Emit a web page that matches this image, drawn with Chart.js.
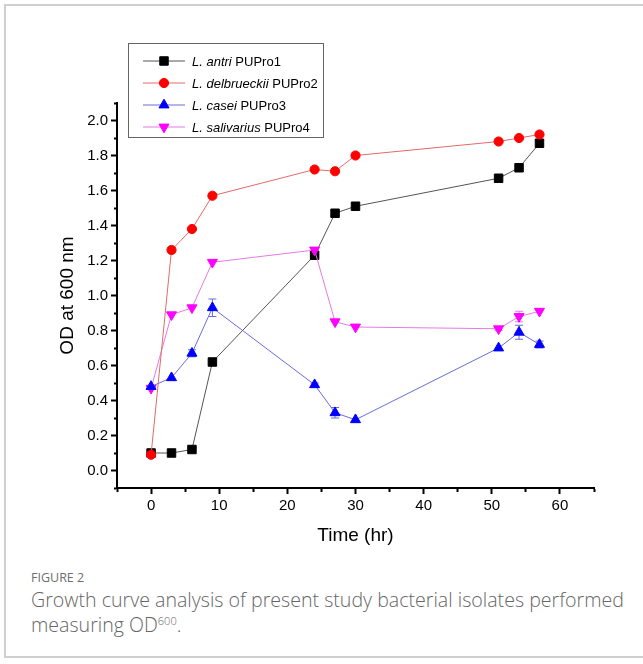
<!DOCTYPE html>
<html>
<head>
<meta charset="utf-8">
<script src="https://cdn.jsdelivr.net/npm/chart.js@4"></script>
<style>
  html, body { margin: 0; padding: 0; background: #fff; }
  body { width: 643px; height: 664px; position: relative; overflow: hidden; }
  #frame { position: absolute; left: 4px; top: 4px; width: 680px; height: 654px; border: 2px solid #cfcfcf; box-sizing: border-box; }
  #wrap { position: absolute; left: 0; top: 0; width: 643px; height: 560px; }
  #figLabel { position: absolute; left: 31px; top: 569px; font-family: "Open Sans", sans-serif; font-size: 12.5px; color: #6e6e6e; }
  #caption { position: absolute; left: 31px; top: 587px; width: 610px; font-family: "Open Sans", sans-serif; font-weight: 300; font-size: 19.6px; line-height: 25px; color: #666; }
  #caption sup { font-size: 11px; vertical-align: 7px; line-height: 0; }
</style>
</head>
<body>
<div id="frame"></div>
<div id="wrap"><canvas id="growthChart" width="643" height="560"></canvas></div>
<div id="figLabel">FIGURE 2</div>
<div id="caption">Growth curve analysis of present study bacterial isolates performed measuring OD<sup>600</sup>.</div>

<script>
// Sampling times (hours)
const hours = [0, 3, 6, 9, 24, 27, 30, 51, 54, 57];

// Strain names (species is drawn in italics in the legend)
const species = ["L. antri", "L. delbrueckii", "L. casei", "L. salivarius"];
const strains = ["PUPro1", "PUPro2", "PUPro3", "PUPro4"];

// OD at 600 nm for each isolate
const antriOD = [0.10, 0.10, 0.12, 0.62, 1.23, 1.47, 1.51, 1.67, 1.73, 1.87];
const delbrueckiiOD = [0.09, 1.26, 1.38, 1.57, 1.72, 1.71, 1.80, 1.88, 1.90, 1.92];
const caseiOD = [0.48, 0.53, 0.67, 0.93, 0.49, 0.33, 0.29, 0.70, 0.79, 0.72];
const salivariusOD = [0.47, 0.89, 0.93, 1.19, 1.26, 0.85, 0.82, 0.81, 0.88, 0.91];

// Error bar half-lengths
const antriErr = [0, 0, 0, 0, 0.01, 0, 0, 0, 0, 0];
const delbrueckiiErr = [0, 0, 0, 0, 0, 0, 0, 0, 0, 0];
const caseiErr = [0, 0, 0.02, 0.05, 0.01, 0.03, 0, 0, 0.04, 0.02];
const salivariusErr = [0, 0, 0, 0, 0.01, 0, 0, 0.01, 0.03, 0];

// Axis tick settings
const xTickValues = [0, 10, 20, 30, 40, 50, 60];
const yTickValues = [0.0, 0.2, 0.4, 0.6, 0.8, 1.0, 1.2, 1.4, 1.6, 1.8, 2.0];

const FONT = "'Liberation Sans', Arial, sans-serif";

function toPoints(values) {
    return hours.map((h, i) => ({ x: h, y: values[i] }));
}

// Draws the error bars behind the markers
const errorBarPlugin = {
    id: "errorBars",
    beforeDatasetsDraw(chart) {
        const ctx = chart.ctx;
        const xScale = chart.scales.x;
        const yScale = chart.scales.y;
        chart.data.datasets.forEach((ds) => {
            if (!ds.errors) return;
            ctx.save();
            ctx.strokeStyle = ds.errorColor;
            ctx.lineWidth = 1;
            ds.data.forEach((p, i) => {
                const e = ds.errors[i];
                if (!e) return;
                const px = xScale.getPixelForValue(p.x);
                const top = yScale.getPixelForValue(p.y + e);
                const bottom = yScale.getPixelForValue(p.y - e);
                ctx.beginPath();
                ctx.moveTo(px, top);
                ctx.lineTo(px, bottom);
                ctx.moveTo(px - 4, top);
                ctx.lineTo(px + 4, top);
                ctx.moveTo(px - 4, bottom);
                ctx.lineTo(px + 4, bottom);
                ctx.stroke();
            });
            ctx.restore();
        });
    }
};

// Boxed legend with italic species names
const boxLegendPlugin = {
    id: "boxLegend",
    afterDraw(chart) {
        const ctx = chart.ctx;
        ctx.save();
        ctx.fillStyle = "#fff";
        ctx.fillRect(128.5, 43.5, 195, 94);
        ctx.strokeStyle = "#666";
        ctx.lineWidth = 1;
        ctx.strokeRect(128.5, 43.5, 195, 94);

        chart.data.datasets.forEach((ds, i) => {
            const y = 61 + i * 22;
            ctx.strokeStyle = ds.borderColor;
            ctx.lineWidth = 1;
            ctx.beginPath();
            ctx.moveTo(143, y);
            ctx.lineTo(185, y);
            ctx.stroke();

            ctx.fillStyle = ds.pointBackgroundColor;
            ctx.strokeStyle = ds.pointBorderColor;
            Chart.helpers.drawPoint(ctx, {
                pointStyle: ds.pointStyle,
                radius: ds.pointRadius,
                rotation: ds.pointRotation || 0,
                borderWidth: 1
            }, 164, y);

            ctx.fillStyle = "#000";
            ctx.textBaseline = "middle";
            ctx.font = "italic 13px " + FONT;
            ctx.fillText(species[i], 192, y + 1);
            const w = ctx.measureText(species[i] + " ").width;
            ctx.font = "13px " + FONT;
            ctx.fillText(strains[i], 192 + w, y + 1);
        });
        ctx.restore();
    }
};

function makeDataset(i, values, errors, pointColor, lineColor, style, radius, rotation, order) {
    return {
        label: species[i] + " " + strains[i],
        data: toPoints(values),
        errors: errors,
        errorColor: lineColor,
        borderColor: lineColor,
        borderWidth: 1,
        pointStyle: style,
        pointRadius: radius,
        pointRotation: rotation,
        pointBackgroundColor: pointColor,
        pointBorderColor: pointColor,
        pointBorderWidth: 1,
        tension: 0,
        fill: false,
        order: order
    };
}

const ctx = document.getElementById("growthChart").getContext("2d");

window.growthChart = new Chart(ctx, {
    type: "line",
    data: {
        datasets: [
            makeDataset(0, antriOD, antriErr, "#000000", "#555555", "rect", 6, 0, 4),
            makeDataset(1, delbrueckiiOD, delbrueckiiErr, "#ff0000", "#e06a6a", "circle", 4.6, 0, 1),
            makeDataset(2, caseiOD, caseiErr, "#0000ff", "#6a6ad8", "triangle", 5.8, 0, 2),
            makeDataset(3, salivariusOD, salivariusErr, "#ff00ff", "#e47ae4", "triangle", 5.8, 180, 3)
        ]
    },
    options: {
        responsive: false,
        animation: false,
        devicePixelRatio: 1,
        layout: {
            padding: { left: 56, top: 103, right: 49, bottom: 13 }
        },
        plugins: {
            legend: { display: false },
            tooltip: { enabled: false }
        },
        scales: {
            x: {
                type: "linear",
                min: -5,
                max: 65,
                afterFit(scale) { scale.height = 59; },
                ticks: {
                    stepSize: 5,
                    padding: 3,
                    color: "#000",
                    font: { family: FONT, size: 15 },
                    maxRotation: 0,
                    autoSkip: false,
                    callback: (v) => xTickValues.includes(v) ? String(v) : ""
                },
                grid: {
                    drawOnChartArea: false,
                    drawTicks: true,
                    tickLength: 6,
                    tickWidth: 2,
                    tickColor: "#000",
                    tickBorderDash: (c) => (c.tick && Math.round(c.tick.value) % 10 !== 0 ? [3, 100] : [])
                },
                border: { display: true, color: "#000", width: 2 },
                title: {
                    display: true,
                    text: "Time (hr)",
                    color: "#000",
                    font: { family: FONT, size: 19 },
                    padding: 0
                }
            },
            y: {
                type: "linear",
                min: -0.1,
                max: 2.1,
                afterFit(scale) { scale.width = 61; },
                ticks: {
                    stepSize: 0.1,
                    padding: 3,
                    color: "#000",
                    font: { family: FONT, size: 15 },
                    autoSkip: false,
                    callback: (v) => {
                        const r = Math.round(v * 10);
                        return (r % 2 === 0 && r >= 0 && r <= 20) ? (r / 10).toFixed(1) : "";
                    }
                },
                grid: {
                    drawOnChartArea: false,
                    drawTicks: true,
                    tickLength: 6,
                    tickWidth: 2,
                    tickColor: "#000",
                    tickBorderDash: (c) => (c.tick && Math.round(c.tick.value * 10) % 2 !== 0 ? [3, 3] : []),
                    tickBorderDashOffset: (c) => (c.tick && Math.round(c.tick.value * 10) % 2 !== 0 ? 3 : 0)
                },
                border: { display: true, color: "#000", width: 2 },
                title: {
                    display: true,
                    text: "OD at 600 nm",
                    color: "#000",
                    font: { family: FONT, size: 19 },
                    padding: 0
                }
            }
        }
    },
    plugins: [errorBarPlugin, boxLegendPlugin]
});
</script>
</body>
</html>
